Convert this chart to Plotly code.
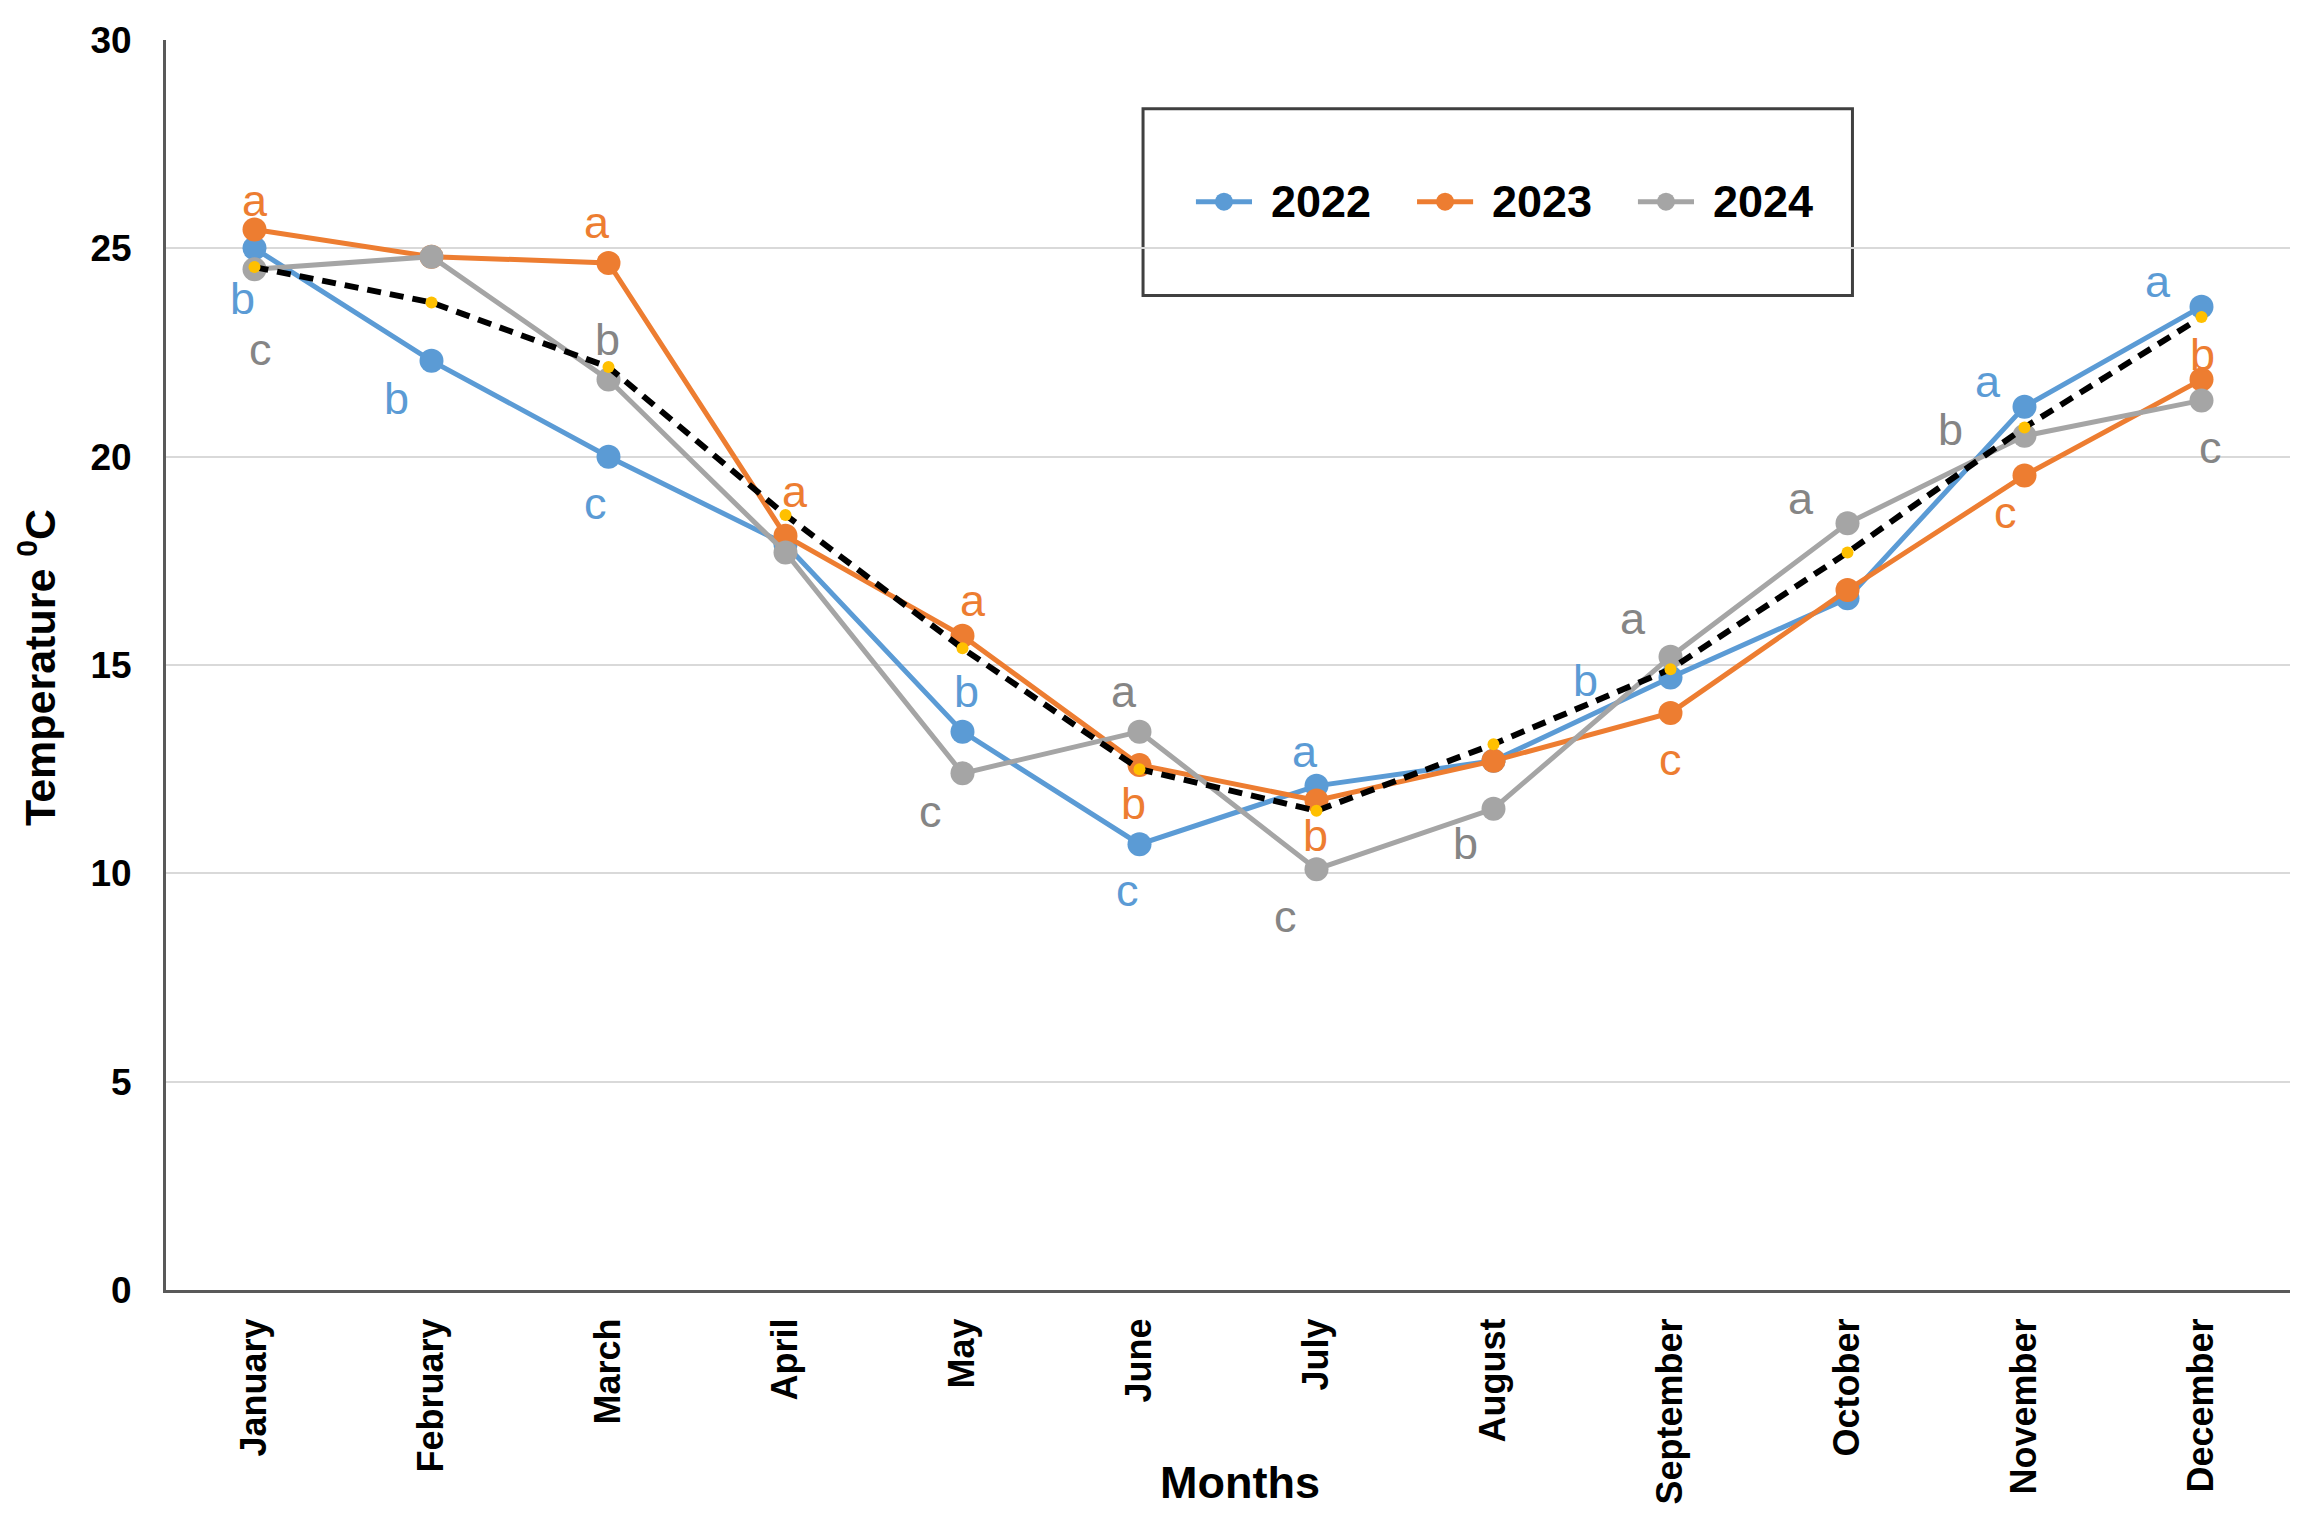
import plotly.graph_objects as go

months = ["January", "February", "March", "April", "May", "June", "July",
          "August", "September", "October", "November", "December"]

t2022 = [25.0, 22.3, 20.0, 17.9, 13.4, 10.7, 12.1, 12.7, 14.7, 16.6, 21.2, 23.6]
t2023 = [25.45, 24.8, 24.65, 18.1, 15.7, 12.6, 11.75, 12.7, 13.85, 16.8, 19.55, 21.85]
t2024 = [24.5, 24.8, 21.85, 17.7, 12.4, 13.4, 10.1, 11.55, 15.2, 18.4, 20.5, 21.35]
t_mean = [24.55, 23.7, 22.15, 18.6, 15.4, 12.5, 11.5, 13.1, 14.9, 17.7, 20.7, 23.35]

series_names = ["2022", "2023", "2024"]

letters_2022 = ["b", "b", "c", "", "b", "c", "a", "", "b", "", "a", "a"]
letters_2023 = ["a", "", "a", "a", "a", "b", "b", "", "c", "", "c", "b"]
letters_2024 = ["c", "", "b", "", "c", "a", "c", "b", "a", "a", "b", "c"]

# pixel offsets (xshift, yshift) of each significance letter from its point
off_2022 = [(-12, -50), (-35, -38), (-13, -47), None, (4, 40), (-12, -46),
            (-12, 34), None, (-85, -3), None, (-37, 25), (-44, 25)]
off_2023 = [(0, 29), None, (-12, 40), (9, 44), (10, 35), (-6, -38),
            (-1, -35), None, (0, -47), None, (-19, -37), (1, 25)]
off_2024 = [(6, -80), None, (-1, 40), None, (-32, -38), (-16, 40),
            (-31, -47), (-28, -35), (-38, 38), (-47, 25), (-74, 6), (9, -47)]

BLUE = "#5B9BD5"
ORANGE = "#ED7D31"
GRAY = "#A5A5A5"
GRAY_TXT = "#858585"
FONT = "Arial, Liberation Sans, sans-serif"
colors = [BLUE, ORANGE, GRAY]

fig = go.Figure()
for name, vals, col in zip(series_names, [t2022, t2023, t2024], colors):
    fig.add_trace(go.Scatter(
        x=months, y=vals, name=name, mode="lines+markers", showlegend=False,
        line=dict(color=col, width=5),
        marker=dict(color=col, size=24, line=dict(width=0)),
    ))

fig.add_trace(go.Scatter(
    x=months, y=t_mean, name="Mean", mode="lines+markers", showlegend=False,
    line=dict(color="black", width=6, dash="14px,9px"),
    marker=dict(color="#FFC000", size=12, line=dict(width=0)),
))

annotations = []
for vals, letters, offs, col in [(t2022, letters_2022, off_2022, BLUE),
                                 (t2023, letters_2023, off_2023, ORANGE),
                                 (t2024, letters_2024, off_2024, GRAY_TXT)]:
    for m, v, L, o in zip(months, vals, letters, offs):
        if not L:
            continue
        annotations.append(dict(
            x=m, y=v, xref="x", yref="y", text=L, showarrow=False,
            xshift=o[0], yshift=o[1],
            font=dict(family=FONT, size=45, color=col),
            xanchor="center", yanchor="middle",
        ))

annotations.append(dict(
    x=-0.061, y=0.498, xref="paper", yref="paper",
    text="<b>Temperature <sup>0</sup>C</b>", showarrow=False, textangle=-90,
    font=dict(family=FONT, size=43, color="black"),
    xanchor="center", yanchor="middle",
))
annotations.append(dict(
    x=0.5056, y=-0.154, xref="paper", yref="paper",
    text="<b>Months</b>", showarrow=False,
    font=dict(family=FONT, size=45, color="black"),
    xanchor="center", yanchor="middle",
))

# legend box (drawn by hand to match the reference's boxed legend)
shapes = [dict(type="rect", xref="paper", yref="paper",
               x0=0.46, x1=0.794, y0=0.7957, y1=0.945,
               line=dict(color="#404040", width=3), fillcolor="white",
               layer="below")]
legend_y = 0.8707
legend_x = [0.4849, 0.5890, 0.6930]   # left end of each legend symbol
sym_w = 0.0264
for name, col, lx in zip(series_names, colors, legend_x):
    shapes.append(dict(type="line", xref="paper", yref="paper",
                       x0=lx, x1=lx + sym_w, y0=legend_y, y1=legend_y,
                       line=dict(color=col, width=5), layer="above"))
    shapes.append(dict(type="circle", xref="paper", yref="paper",
                       xsizemode="pixel", ysizemode="pixel",
                       xanchor=lx + sym_w / 2, yanchor=legend_y,
                       x0=-9, x1=9, y0=-9, y1=9,
                       fillcolor=col, line=dict(width=0), layer="above"))
    annotations.append(dict(
        x=lx + sym_w + 0.008, y=legend_y, xref="paper", yref="paper",
        text="<b>" + name + "</b>", showarrow=False,
        font=dict(family=FONT, size=45, color="black"),
        xanchor="left", yanchor="middle",
    ))

fig.update_layout(
    width=2301, height=1520,
    margin=dict(l=158, r=19, t=29, b=238),
    paper_bgcolor="white", plot_bgcolor="white",
    font=dict(family=FONT, color="black"),
    annotations=annotations,
    shapes=shapes,
    showlegend=False,
    xaxis=dict(
        type="category", range=[-0.5, 11.5], showgrid=False, showline=True,
        linecolor="#595959", linewidth=3, ticks="", tickangle=-90,
        ticklabelstandoff=11,
        tickfont=dict(family=FONT, size=36, color="black", weight="bold"),
        zeroline=False,
    ),
    yaxis=dict(
        range=[0, 30], dtick=5, showgrid=True, gridcolor="#D9D9D9", gridwidth=2,
        showline=True, linecolor="#595959", linewidth=3, ticks="",
        ticklabelstandoff=24, zeroline=False,
        tickfont=dict(family=FONT, size=37, color="black", weight="bold"),
    ),
)

fig.write_html("out.html")
